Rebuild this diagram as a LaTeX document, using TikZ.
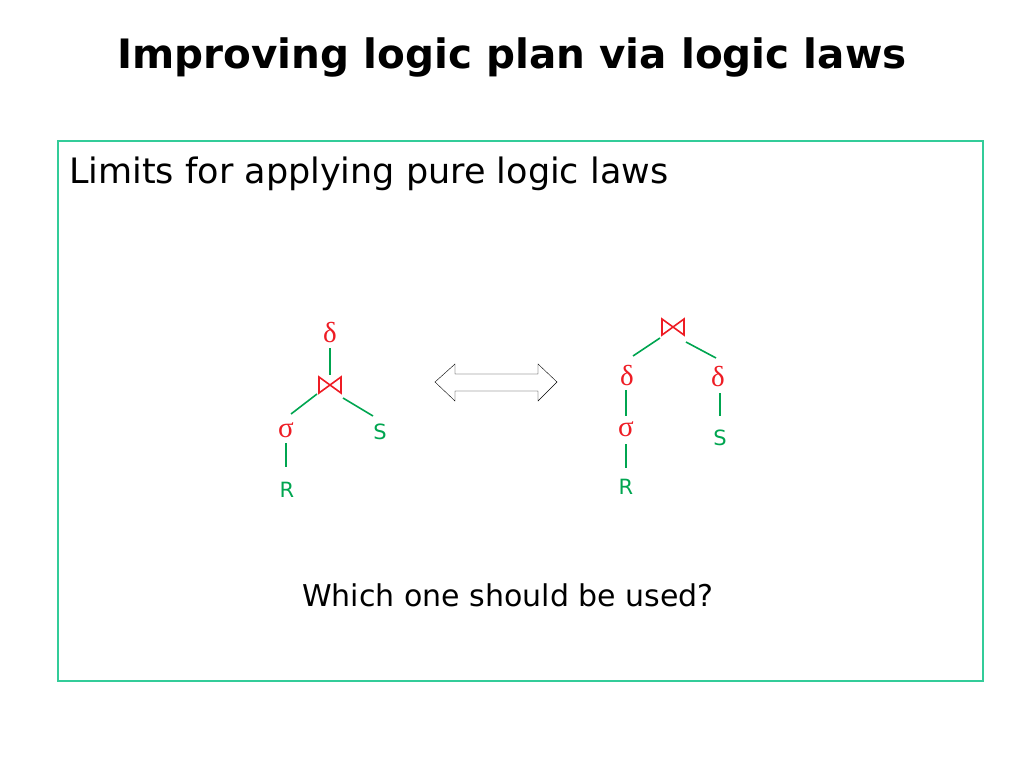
\documentclass[tikz,border=0pt]{standalone}
\usepackage{fontspec}
\setmainfont{DejaVu Sans}
\newfontfamily\greekf{Liberation Serif}
\definecolor{gr}{HTML}{00A550}
\definecolor{rd}{HTML}{EE1C24}
\definecolor{bx}{HTML}{33CC99}
\begin{document}
\begin{tikzpicture}[x=1pt,y=-1pt,
 edge/.style={gr,line width=1.6pt},
 gk/.style={rd,font=\greekf\fontsize{29}{29}\selectfont,inner sep=0pt},
 rel/.style={gr,font=\fontsize{21}{21}\selectfont,inner sep=0pt},
 bow/.style={rd,line width=1.6pt,line join=miter}]
\useasboundingbox (0,0) rectangle (1024,768);
\node[font=\bfseries\fontsize{40.5}{40.5}\selectfont] (title) at (512,57) {Improving logic plan via logic laws};
\draw[bx,line width=1.2pt] (58,141) rectangle (983,681);
\node[anchor=west,font=\fontsize{35}{35}\selectfont,inner sep=0pt] (sub) at (69,174) {Limits for applying pure logic laws};
\node[font=\fontsize{30}{30}\selectfont] (q) at (508,595) {Which one should be used?};
% left tree
\node[gk] (d1) at (330,333) {δ};
\coordinate (j1) at (330,385);
\draw[bow] (319,377) -- (319,393) -- (341,377) -- (341,393) -- cycle;
\node[gk] (s1) at (286,430) {σ};
\node[rel] (r1) at (287,490) {R};
\node[rel] (S1) at (380,432) {S};
\draw[edge] (330,348) -- (330,375);
\draw[edge] (317,394) -- (291,414);
\draw[edge] (343,398) -- (373,416);
\draw[edge] (286,443) -- (286,467);
% arrow
\coordinate (arr) at (496,382);
\draw[thin] (435,382) -- (455,364) -- (455,374) -- (538,374) -- (538,364) -- (557,382)
  -- (538,401) -- (538,391) -- (455,391) -- (455,401) -- cycle;
% right tree
\coordinate (j2) at (673,327);
\draw[bow] (662,319) -- (662,335) -- (684,319) -- (684,335) -- cycle;
\node[gk] (d2) at (627,376) {δ};
\node[gk] (d3) at (718,377) {δ};
\node[gk] (s2) at (626,429) {σ};
\node[rel] (r2) at (626,487) {R};
\node[rel] (S2) at (720,438) {S};
\draw[edge] (660,338) -- (633,356);
\draw[edge] (686,342) -- (716,358);
\draw[edge] (626,390) -- (626,416);
\draw[edge] (720,393) -- (720,416);
\draw[edge] (626,444) -- (626,468);
\end{tikzpicture}
\end{document}
